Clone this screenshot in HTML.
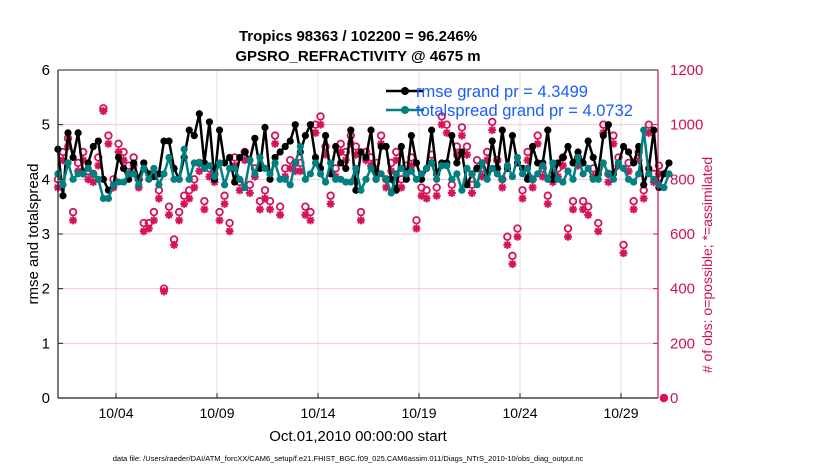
<!DOCTYPE html>
<html><head><meta charset="utf-8">
<style>
body{margin:0;background:#fff;font-family:"Liberation Sans",sans-serif;}
svg text{font-family:"Liberation Sans",sans-serif;}
</style></head>
<body>
<svg id="chart" width="830" height="470" xmlns="http://www.w3.org/2000/svg">
<rect width="830" height="470" fill="#fff"/>
<g id="grid"></g>
<g id="series"></g>
<g id="axes"></g>
<text x="358" y="41" text-anchor="middle" font-size="15" font-weight="bold">Tropics 98363 / 102200 = 96.246%</text>
<text x="358" y="61" text-anchor="middle" font-size="15" font-weight="bold">GPSRO_REFRACTIVITY @ 4675 m</text>
<text transform="translate(38,234) rotate(-90)" text-anchor="middle" font-size="15">rmse and totalspread</text>
<text transform="translate(712,265) rotate(-90)" text-anchor="middle" font-size="14" fill="#d0105a"># of obs: o=possible; *=assimilated</text>
<text x="358" y="441" text-anchor="middle" font-size="15">Oct.01,2010 00:00:00 start</text>
<text x="348" y="461" text-anchor="middle" font-size="7.5">data file: /Users/raeder/DAI/ATM_forcXX/CAM6_setup/f.e21.FHIST_BGC.f09_025.CAM6assim.011/Diags_NTrS_2010-10/obs_diag_output.nc</text>
<g id="legend">
<line x1="386" y1="91" x2="424" y2="91" stroke="#000" stroke-width="2.5"/>
<circle cx="405" cy="91" r="4" fill="#000"/>
<text x="416" y="97" font-size="16.5" fill="#1a5cff">rmse grand pr = 4.3499</text>
<line x1="386" y1="110" x2="424" y2="110" stroke="#008080" stroke-width="2.5"/>
<circle cx="405" cy="110" r="4" fill="#008080"/>
<text x="416" y="116" font-size="16.5" fill="#1a5cff">totalspread grand pr = 4.0732</text>
</g>
</svg>
<script>
const rmse=[4.55,3.7,4.85,4.4,4.85,4.1,4.3,4.6,4.7,4.0,3.8,3.9,4.4,4.2,4.0,4.3,4.0,4.3,4.1,4.05,4.1,4.7,4.7,4.2,4.0,4.4,4.9,4.8,5.2,4.3,5.05,4.0,4.9,4.3,4.4,3.95,4.4,4.5,4.35,4.75,4.2,4.95,4.0,4.4,4.5,4.6,4.7,5.0,4.5,4.8,5.0,4.4,4.2,4.8,4.1,4.6,4.3,4.2,4.9,3.8,4.5,4.4,4.9,4.0,4.6,4.6,4.0,3.8,4.6,4.0,4.8,4.3,4.0,4.2,4.9,4.1,4.3,4.3,4.8,4.3,4.5,3.9,4.1,4.2,4.3,4.1,4.7,4.2,4.9,4.2,4.8,4.3,4.2,4.0,4.6,4.3,4.3,4.9,4.0,4.3,4.4,4.6,4.3,4.5,4.3,4.7,4.4,4.1,4.8,5.0,4.1,4.3,4.6,4.5,4.3,4.6,3.9,4.2,4.9,3.85,4.1,4.3,4.75];
const spread=[4.1,3.9,4.3,4.0,4.1,4.1,4.2,4.1,4.0,3.65,3.65,3.9,3.95,3.95,4.1,4.1,3.9,4.2,4.0,4.2,3.9,4.1,4.4,4.0,4.0,4.55,4.0,4.3,4.3,4.2,4.25,4.05,4.3,3.9,4.2,4.2,4.0,3.85,4.35,4.1,4.4,4.2,4.1,4.3,4.0,4.0,3.9,4.3,4.6,4.0,4.1,4.3,4.1,3.95,4.3,4.0,4.0,3.95,3.95,4.2,3.8,4.0,4.2,4.0,4.1,4.0,3.75,4.1,4.2,4.1,4.15,4.0,4.1,4.2,4.3,4.0,4.25,4.25,4.0,4.1,3.8,4.2,4.1,3.9,4.3,4.0,4.2,4.1,4.0,4.25,4.05,4.4,4.1,4.2,4.0,4.1,4.25,4.0,4.3,4.0,3.95,4.15,4.0,4.4,4.1,4.2,4.0,4.0,4.3,4.1,4.0,4.3,4.2,4.0,3.95,4.1,4.9,4.1,4.0,3.9,3.85,4.1,4.25];
const possible=[800,900,950,680,860,900,830,820,880,1060,960,800,930,900,850,880,800,640,640,680,760,400,700,580,680,740,760,800,860,720,840,820,680,740,640,880,790,900,780,840,720,760,720,960,700,840,870,860,860,700,680,1000,1030,920,740,840,930,900,960,920,680,900,880,860,960,800,860,900,800,850,880,650,770,760,890,770,1030,1000,780,920,990,920,780,870,840,900,1010,870,800,590,520,620,760,900,800,960,840,740,820,840,880,620,720,880,720,700,840,640,1000,820,960,880,560,860,720,900,760,1000,820,850,0];
const assimilated=[770,870,920,650,830,870,800,790,850,1050,930,770,900,870,820,850,770,610,620,650,730,390,670,560,650,710,730,770,830,690,810,790,650,710,610,850,760,870,750,810,690,730,690,930,670,810,840,830,830,670,650,970,1000,890,710,810,900,870,930,890,650,870,850,830,930,770,830,870,770,820,850,620,740,730,860,740,1000,970,750,890,960,890,750,840,810,870,980,840,770,560,490,590,730,870,770,930,810,710,790,810,850,590,690,850,690,670,810,610,970,790,930,850,530,830,690,870,730,970,790,820,0];
const xTickDays=[3,8,13,18,23,28];
const xTickLabels=['10/04','10/09','10/14','10/19','10/24','10/29'];
const yTicks=[0,1,2,3,4,5,6];
const y2Ticks=[0,200,400,600,800,1000,1200];

const NS='http://www.w3.org/2000/svg';
const L=58,R=658,T=70,B=398;
const xs=t=>55.4+t*20.2;
const ys=v=>B-(v-0)/(6-0)*(B-T);
const y2s=v=>B-v/1200*(B-T);
const tAt=i=>0.125+0.25*i;
function mk(tag,attrs,parent){const e=document.createElementNS(NS,tag);for(const k in attrs)e.setAttribute(k,attrs[k]);parent.appendChild(e);return e;}
const grid=document.getElementById('grid'),ser=document.getElementById('series'),ax=document.getElementById('axes');

xTickDays.forEach((d,i)=>{
  const g=mk('line',{x1:xs(d),x2:xs(d),y1:T,y2:B,stroke:'#e2e2e2','stroke-width':1},grid);
  
  
  const t=mk('text',{x:xs(d),y:B+20,'text-anchor':'middle','font-size':14},ax);
  t.textContent=xTickLabels[i];
  
  
  mk('line',{x1:xs(d),x2:xs(d),y1:B,y2:B-5,stroke:'#222'},ax);
});
yTicks.forEach(v=>{
  if(v>0&&v<6){const g=mk('line',{x1:L,x2:R,y1:ys(v),y2:ys(v),stroke:'#f5c9dc','stroke-width':1},grid);
  
  }
  const t=mk('text',{x:L-8,y:ys(v)+5,'text-anchor':'end','font-size':15},ax);
  t.textContent=v;
  
  
  mk('line',{x1:L,x2:L+5,y1:ys(v),y2:ys(v),stroke:'#222'},ax);
});
y2Ticks.forEach(v=>{
  const t=mk('text',{x:R+12,y:y2s(v)+5,'font-size':15,fill:'#d0105a'},ax);
  t.textContent=v;
  
  
  mk('line',{x1:R,x2:R-5,y1:y2s(v),y2:y2s(v),stroke:'#d0105a'},ax);
});
const a1=mk('line',{x1:L,x2:L,y1:T,y2:B,stroke:'#222','stroke-width':1.2},ax);


const a2=mk('line',{x1:L,x2:R,y1:B,y2:B,stroke:'#222','stroke-width':1.2},ax);


mk('line',{x1:L,x2:R,y1:T,y2:T,stroke:'#222','stroke-width':1},ax);
const a3=mk('line',{x1:R,x2:R,y1:T,y2:B,stroke:'#d0105a','stroke-width':1.2},ax);



possible.forEach((v,i)=>{
  const c=mk('circle',{cx:xs(tAt(i)),cy:y2s(v),r:3.3,fill:'none',stroke:'#d6125a','stroke-width':1.8},ser);
  
  
});
assimilated.forEach((v,i)=>{
  const cx=xs(tAt(i)),cy=y2s(v),r=4;
  const d=`M${cx-r},${cy}H${cx+r}M${cx},${cy-r}V${cy+r}M${cx-2.9},${cy-2.9}L${cx+2.9},${cy+2.9}M${cx-2.9},${cy+2.9}L${cx+2.9},${cy-2.9}`;
  const p=mk('path',{d:d,stroke:'#d6125a','stroke-width':2,fill:'none'},ser);
  
  
});
function line(arr,color,name){
  const n=arr.length-1;
  const pts=arr.slice(0,n).map((v,i)=>xs(tAt(i))+','+ys(v)).join(' ');
  const p=mk('polyline',{points:pts,fill:'none',stroke:color,'stroke-width':2.5,'stroke-linejoin':'round'},ser);
  
  
  arr.slice(0,n).forEach((v,i)=>{
    const c=mk('circle',{cx:xs(tAt(i)),cy:ys(v),r:3.6,fill:color},ser);
    
    
  });
}
line(rmse,'#000','rmse');
line(spread,'#008080','totalspread');
</script>
</body></html>
